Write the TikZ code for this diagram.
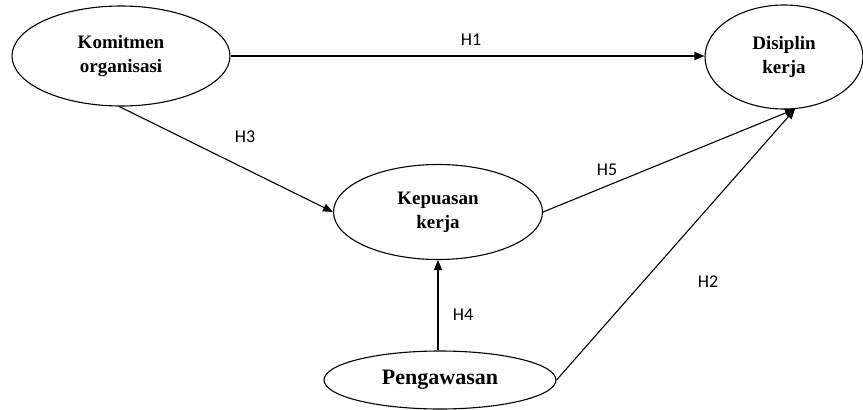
\documentclass[tikz,border=0pt]{standalone}
\usepackage{fontspec}
\setmainfont{Liberation Serif}
\newfontfamily\labelfont{Carlito}
\usetikzlibrary{shapes.geometric,arrows.meta}

\begin{document}
\begin{tikzpicture}[x=1pt,y=-1pt,
    var/.style={draw, ellipse, line width=1.1pt, align=center, inner sep=0pt,
        font=\fontsize{19}{24}\selectfont\bfseries},
    hip/.style={font=\labelfont\fontsize{18}{20}\selectfont},
    jalur/.style={line width=1.1pt, -{Triangle[length=10pt,width=8pt]}}]
    \useasboundingbox (0,0) rectangle (863,410);

    % Variabel
    \node[var, minimum width=218pt, minimum height=100pt] (komitmen) at (121,56) {Komitmen\\organisasi};
    \node[var, minimum width=158pt, minimum height=104pt] (disiplin) at (784,57) {Disiplin\\kerja};
    \node[var, minimum width=209pt, minimum height=95pt] (kepuasan) at (438,212) {Kepuasan\\kerja};
    \node[var, minimum width=232pt, minimum height=58pt, font=\fontsize{22}{24}\selectfont\bfseries] (pengawasan) at (440,380) {Pengawasan};
    \coordinate (temu) at (disiplin.-78);

    % Jalur
    \draw[jalur] (komitmen.east) -- (komitmen.east -| disiplin.west);
    \draw[jalur] (komitmen.-92) -- (kepuasan.west);
    \draw[jalur] (kepuasan.east) -- (temu);
    \draw[jalur] (pengawasan.east) -- (temu);
    \draw[jalur] (kepuasan.south |- pengawasan.north) -- (kepuasan.south);

    % Hipotesis
    \node[hip] (h1) at (471,40) {H1};
    \node[hip] (h3) at (245,137) {H3};
    \node[hip] (h5) at (607,170) {H5};
    \node[hip] (h2) at (708,282) {H2};
    \node[hip] (h4) at (463,315) {H4};
\end{tikzpicture}
\end{document}
